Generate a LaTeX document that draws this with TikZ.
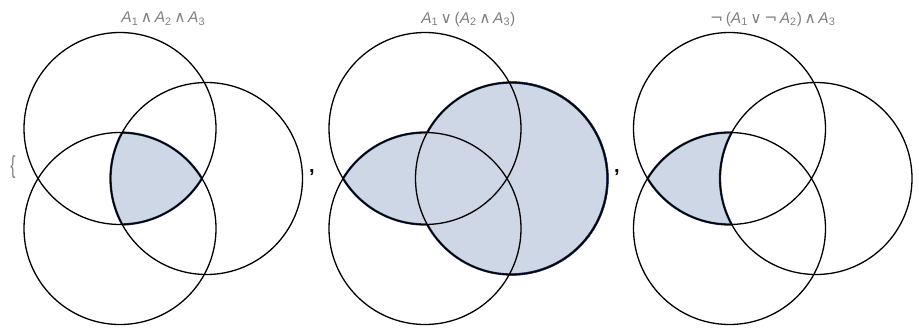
\documentclass[tikz,border=0pt]{standalone}
\usepackage{fontspec}
\setmainfont{Liberation Sans}
\newfontfamily\symfont{DejaVu Sans}
\definecolor{vennfill}{RGB}{205,215,230}
\definecolor{vennedge}{RGB}{40,55,95}
\definecolor{labelgray}{RGB}{128,128,128}

\newcommand{\Avar}[1]{\textit{A}\textsubscript{#1}}
\newcommand{\opand}{\,{\symfont ∧}\,}
\newcommand{\opor}{\,{\symfont ∨}\,}
\newcommand{\opnot}{{\symfont ¬}\,}

\begin{document}
\begin{tikzpicture}[x=1pt, y=-1pt, even odd rule,
    ring/.style={draw=black, line width=1.3pt},
    region/.style={fill=vennfill},
    rim/.style={draw=vennedge, line width=2.3pt},
    title/.style={font=\fontsize{15.5}{18}\selectfont, text=labelgray, inner sep=0pt},
    sep/.style={font=\fontsize{20}{20}\selectfont\bfseries, inner sep=0pt, anchor=base}]

    \useasboundingbox (0,0) rectangle (919,327);
    \def\rad{96pt}
    % clip to everything outside one circle
    \def\outside#1{\clip (-10,-10) rectangle (930,340) (#1) circle[radius=\rad];}

    % Circle centres: t = top left, r = right, b = bottom left
    \foreach \i/\ox in {1/120, 2/425, 3/729.5} {
        \coordinate (p\i t) at (\ox,128.5);
        \coordinate (p\i r) at (\ox+86.5,178.5);
        \coordinate (p\i b) at (\ox,228.5);
    }

    % Panel 1 -- common part of all three
    \begin{scope}
        \clip (p1t) circle[radius=\rad];
        \clip (p1r) circle[radius=\rad];
        \fill[region] (p1b) circle[radius=\rad];
    \end{scope}

    % Panel 2 -- right circle and the left lens
    \fill[region] (p2r) circle[radius=\rad];
    \begin{scope}
        \clip (p2t) circle[radius=\rad];
        \fill[region] (p2b) circle[radius=\rad];
    \end{scope}

    % Panel 3 -- left lens without the right circle
    \begin{scope}
        \clip (p3t) circle[radius=\rad];
        \clip (p3b) circle[radius=\rad];
        \outside{p3r}
        \fill[region] (p3t) circle[radius=\rad];
    \end{scope}

    % Rims of the shaded parts
    \begin{scope}\clip (p1r) circle[radius=\rad]; \clip (p1b) circle[radius=\rad];
        \draw[rim] (p1t) circle[radius=\rad];\end{scope}
    \begin{scope}\clip (p1t) circle[radius=\rad]; \clip (p1b) circle[radius=\rad];
        \draw[rim] (p1r) circle[radius=\rad];\end{scope}
    \begin{scope}\clip (p1t) circle[radius=\rad]; \clip (p1r) circle[radius=\rad];
        \draw[rim] (p1b) circle[radius=\rad];\end{scope}

    \begin{scope}\outside{p2t} \draw[rim] (p2r) circle[radius=\rad];\end{scope}
    \begin{scope}\outside{p2b} \draw[rim] (p2r) circle[radius=\rad];\end{scope}
    \begin{scope}\clip (p2b) circle[radius=\rad]; \outside{p2r}
        \draw[rim] (p2t) circle[radius=\rad];\end{scope}
    \begin{scope}\clip (p2t) circle[radius=\rad]; \outside{p2r}
        \draw[rim] (p2b) circle[radius=\rad];\end{scope}

    \begin{scope}\clip (p3b) circle[radius=\rad]; \outside{p3r}
        \draw[rim] (p3t) circle[radius=\rad];\end{scope}
    \begin{scope}\clip (p3t) circle[radius=\rad]; \outside{p3r}
        \draw[rim] (p3b) circle[radius=\rad];\end{scope}
    \begin{scope}\clip (p3t) circle[radius=\rad]; \clip (p3b) circle[radius=\rad];
        \draw[rim] (p3r) circle[radius=\rad];\end{scope}

    % All circles
    \foreach \i in {1,2,3} {
        \foreach \c in {t,r,b}
            \draw[ring] (p\i\c) circle[radius=\rad];
    }

    % Titles
    \node[title] (title1) at (163.25,19) {\Avar{1}\opand\Avar{2}\opand\Avar{3}};
    \node[title] (title2) at (468.25,19) {\Avar{1}\opor(\Avar{2}\opand\Avar{3})};
    \node[title] (title3) at (772.75,19) {\opnot(\Avar{1}\opor\opnot\Avar{2})\opand\Avar{3}};

    % List brace and commas
    \node[inner sep=0pt, text=labelgray] (brace) at (13,167)
        {\scalebox{0.6}[0.95]{\fontsize{26}{26}\selectfont\{}};
    \node[sep] (comma1) at (312,172) {,};
    \node[sep] (comma2) at (617,172) {,};
\end{tikzpicture}
\end{document}
